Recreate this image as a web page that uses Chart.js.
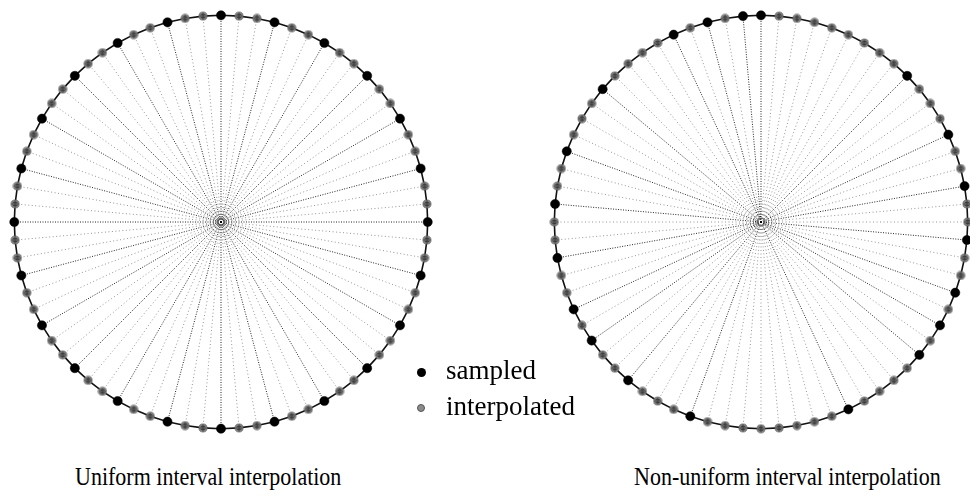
<!DOCTYPE html>
<html>
<head>
<meta charset="utf-8">
<script src="https://cdn.jsdelivr.net/npm/chart.js@4/dist/chart.umd.min.js"></script>
<style>
  html, body { margin: 0; padding: 0; background: #fff; }
  #stage { position: relative; width: 970px; height: 501px; overflow: hidden; background: #fff; }
  .ring { position: absolute; width: 440px; height: 440px; }
  #left { left: 1px; top: 2px; }
  #right { left: 541px; top: 2px; }
  .txt { position: absolute; font-family: "Liberation Serif", "Times New Roman", serif; color: #000; white-space: nowrap; line-height: 1; }
  .legend-text { font-size: 27px; }
  .title { font-size: 22px; transform-origin: left top; transform: scaleY(1.12); }
  .dot { position: absolute; border-radius: 50%; }
  .dot.sampled { width: 9px; height: 9px; background: #000; }
  .dot.interp { width: 8px; height: 8px; background: #8c8c8c; border: 0.8px solid #555; box-sizing: border-box; }
</style>
</head>
<body>
<div id="stage">
  <canvas id="left" class="ring" width="440" height="440"></canvas>
  <canvas id="right" class="ring" width="440" height="440"></canvas>

  <div class="dot sampled" style="left:417px; top:368px;"></div>
  <div class="txt legend-text" style="left:446px; top:357px;">sampled</div>
  <div class="dot interp" style="left:417px; top:404px;"></div>
  <div class="txt legend-text" style="left:446px; top:393px;">interpolated</div>

  <div class="txt title" style="left:75px; top:465px;">Uniform interval interpolation</div>
  <div class="txt title" style="left:634px; top:465px;">Non-uniform interval interpolation</div>
</div>
<script>
// Angular positions on the contour, degrees clockwise from the top
const contourAngles = [
  0, 5, 10, 15, 20, 25, 30, 35, 40, 45, 50, 55,
  60, 65, 70, 75, 80, 85, 90, 95, 100, 105, 110, 115,
  120, 125, 130, 135, 140, 145, 150, 155, 160, 165, 170, 175,
  180, 185, 190, 195, 200, 205, 210, 215, 220, 225, 230, 235,
  240, 245, 250, 255, 260, 265, 270, 275, 280, 285, 290, 295,
  300, 305, 310, 315, 320, 325, 330, 335, 340, 345, 350, 355
];

// Sampled contour points, uniform spacing
const uniformSampled = [
  0, 15, 30, 45, 60, 75, 90, 105, 120, 135, 150, 165,
  180, 195, 210, 225, 240, 255, 270, 285, 300, 315, 330, 345
];

// Sampled contour points, non-uniform spacing
const nonUniformSampled = [
  0, 45, 65, 80, 95, 110, 120, 130, 155, 200,
  220, 235, 245, 260, 275, 290, 310, 335, 345, 355
];

const legendLabels = ['sampled', 'interpolated'];
const panelTitles = ['Uniform interval interpolation', 'Non-uniform interval interpolation'];

// axis half-extent relative to the unit circle
const EXTENT = 220 / 212.5;

function toXY(deg) {
  const r = deg * Math.PI / 180;
  return { x: Math.sin(r), y: Math.cos(r) };
}

function spokes(angles) {
  const pts = [];
  angles.forEach(a => {
    pts.push({ x: 0, y: 0 });
    pts.push(toXY(a));
    pts.push({ x: 0, y: null });
  });
  return pts;
}

// gray dot with a small dark cross, used for interpolated points
function makeInterpMarker() {
  const c = document.createElement('canvas');
  c.width = 10; c.height = 10;
  const g = c.getContext('2d');
  g.fillStyle = '#858585';
  g.beginPath(); g.arc(5, 5, 4.1, 0, Math.PI * 2); g.fill();
  g.strokeStyle = '#333'; g.lineWidth = 0.9;
  g.beginPath();
  g.moveTo(5, 1.4); g.lineTo(5, 8.6);
  g.moveTo(1.4, 5); g.lineTo(8.6, 5);
  g.moveTo(2.8, 3.4); g.lineTo(7.2, 3.4);
  g.moveTo(2.8, 6.6); g.lineTo(7.2, 6.6);
  g.stroke();
  g.strokeStyle = '#5a5a5a'; g.lineWidth = 0.6;
  g.beginPath(); g.arc(5, 5, 4.1, 0, Math.PI * 2); g.stroke();
  return c;
}
const interpMarker = makeInterpMarker();

function buildChart(canvasId, sampled) {
  const interpolated = contourAngles.filter(a => !sampled.includes(a));
  const ring = contourAngles.map(toXY);
  ring.push(toXY(contourAngles[0]));

  return new Chart(document.getElementById(canvasId), {
    type: 'scatter',
    data: {
      datasets: [
        {
          label: 'interpolated rays',
          data: spokes(interpolated),
          showLine: true, spanGaps: false,
          borderColor: 'rgba(0,0,0,0.42)', borderWidth: 1, borderDash: [1, 2.5],
          pointRadius: 0, order: 6, clip: false
        },
        {
          label: 'sampled rays',
          data: spokes(sampled),
          showLine: true, spanGaps: false,
          borderColor: 'rgba(0,0,0,0.85)', borderWidth: 1, borderDash: [1, 1.5],
          pointRadius: 0, order: 5, clip: false
        },
        {
          label: 'contour',
          data: ring,
          showLine: true,
          borderColor: '#111', borderWidth: 1.6,
          pointRadius: 0, order: 4, clip: false
        },
        {
          label: legendLabels[1],
          data: interpolated.map(toXY),
          pointStyle: interpMarker,
          pointRadius: 5,
          order: 3, clip: false
        },
        {
          label: legendLabels[0],
          data: sampled.map(toXY),
          pointStyle: 'circle',
          pointRadius: 4.6,
          backgroundColor: '#000', borderColor: '#000', borderWidth: 0.5,
          order: 1, clip: false
        }
      ]
    },
    options: {
      responsive: false,
      animation: false,
      events: [],
      layout: { padding: 0 },
      plugins: { legend: { display: false }, tooltip: { enabled: false }, title: { display: false } },
      scales: {
        x: { type: 'linear', min: -EXTENT, max: EXTENT, display: false },
        y: { type: 'linear', min: -EXTENT, max: EXTENT, display: false }
      }
    }
  });
}

buildChart('left', uniformSampled);
buildChart('right', nonUniformSampled);
</script>
</body>
</html>
